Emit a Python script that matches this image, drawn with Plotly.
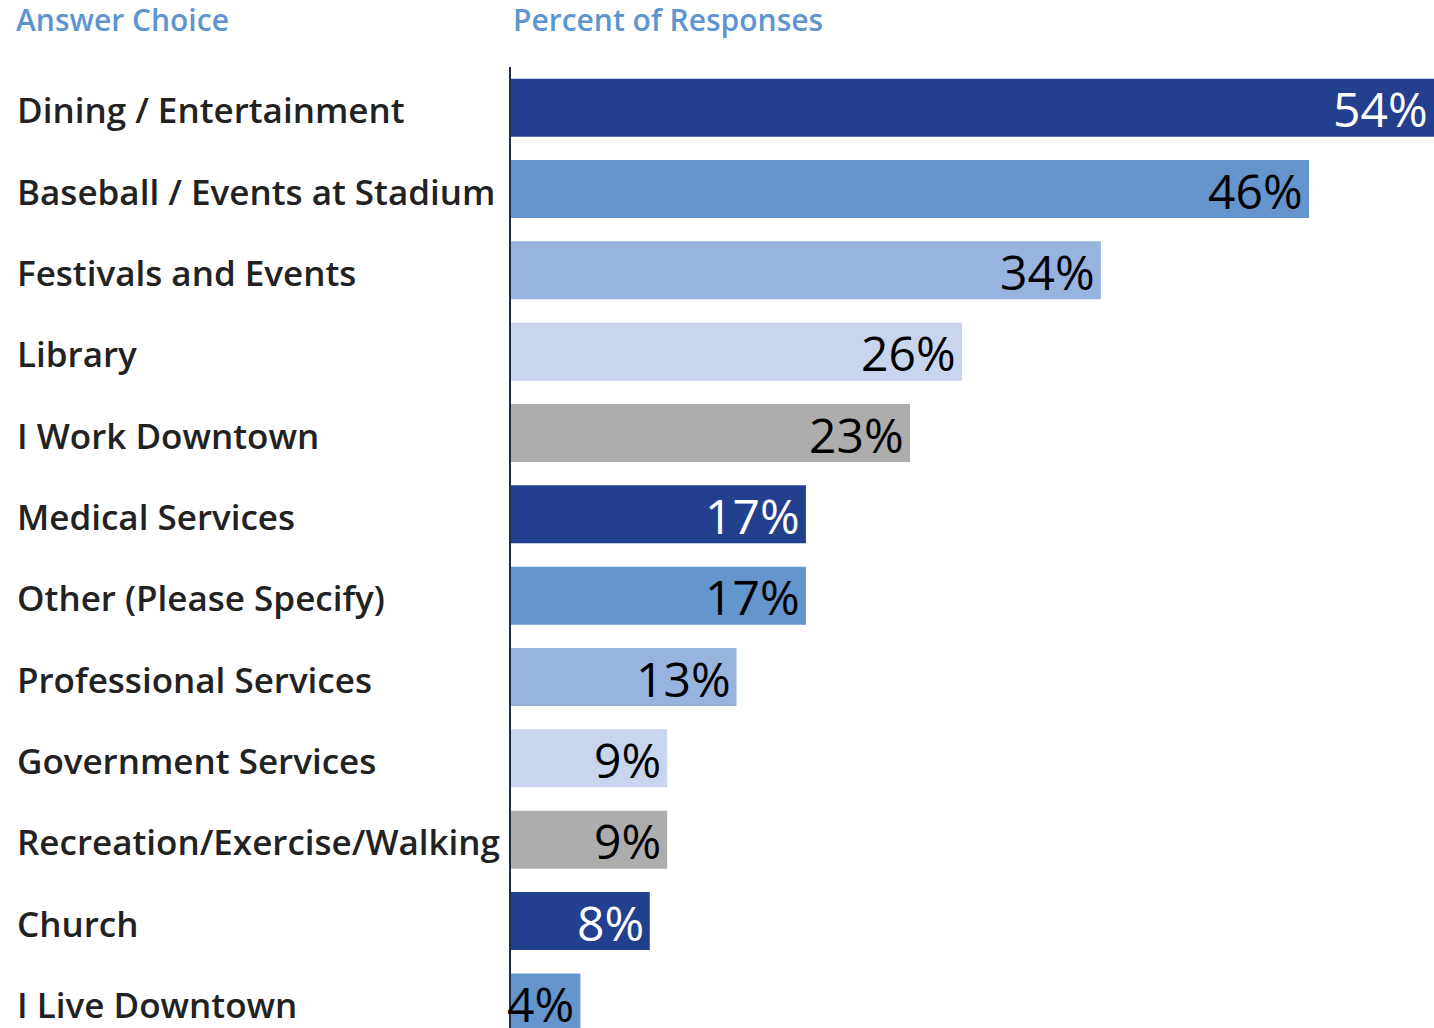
import plotly.graph_objects as go

# Survey results: reasons for visiting downtown
answers = [
    "Dining / Entertainment",
    "Baseball / Events at Stadium",
    "Festivals and Events",
    "Library",
    "I Work Downtown",
    "Medical Services",
    "Other (Please Specify)",
    "Professional Services",
    "Government Services",
    "Recreation/Exercise/Walking",
    "Church",
    "I Live Downtown",
]
percents = [54, 46, 34, 26, 23, 17, 17, 13, 9, 9, 8, 4]

palette = ["#23408F", "#6495CD", "#98B3DE", "#C8D5EC", "#ADADAD"]
label_colors = ["#FFFFFF", "#000000", "#000000", "#000000", "#000000"]

bar_colors = [palette[i % 5] for i in range(len(answers))]
text_colors = [label_colors[i % 5] for i in range(len(answers))]

W, H = 1434, 1028
M_L, M_T = 511, 67
X_MAX = 53.2
HEADER_COLOR = "#5E95D1"
FONT = "Open Sans"

fig = go.Figure(
    go.Bar(
        x=percents,
        y=list(range(len(answers))),
        orientation="h",
        marker=dict(color=bar_colors, line=dict(width=0)),
        hoverinfo="skip",
    )
)

# Value labels at the right end of each bar (kept inside the visible axis range)
for i, v in enumerate(percents):
    fig.add_annotation(
        x=min(v, X_MAX), xref="x", xanchor="right", xshift=-4,
        y=i, yref="y", yanchor="middle", yshift=-1,
        text=f"{v}%", showarrow=False,
        font=dict(family=FONT, size=48, color=text_colors[i]),
    )

# Answer labels, left aligned in the column to the left of the bars
for i, name in enumerate(answers):
    fig.add_annotation(
        x=(15 - M_L) / (W - M_L), xref="paper", xanchor="left",
        y=i, yref="y", yanchor="middle", yshift=-2,
        text=name, showarrow=False,
        font=dict(family=FONT, size=35, color="#222222", weight=600),
    )

# Column headers
header_y = 1 + (M_T - 20) / (H - M_T)
fig.add_annotation(
    x=(14 - M_L) / (W - M_L), xref="paper", xanchor="left",
    y=header_y, yref="paper", yanchor="middle",
    text="Answer Choice", showarrow=False,
    font=dict(family=FONT, size=30, color=HEADER_COLOR, weight=600),
)
fig.add_annotation(
    x=0, xref="paper", xanchor="left",
    y=header_y, yref="paper", yanchor="middle",
    text="Percent of Responses", showarrow=False,
    font=dict(family=FONT, size=30, color=HEADER_COLOR, weight=600),
)

fig.update_layout(
    width=W, height=H,
    margin=dict(l=M_L, r=0, t=M_T, b=0, pad=0),
    paper_bgcolor="white", plot_bgcolor="white",
    bargap=0.287,
    showlegend=False,
    xaxis=dict(range=[0, X_MAX], visible=False, fixedrange=True),
    yaxis=dict(
        range=[11.315, -0.5],
        showticklabels=False, ticks="",
        showgrid=False, zeroline=False,
        showline=True, linecolor="#1F2A4F", linewidth=2,
        fixedrange=True,
    ),
)

fig.write_html("out.html")
